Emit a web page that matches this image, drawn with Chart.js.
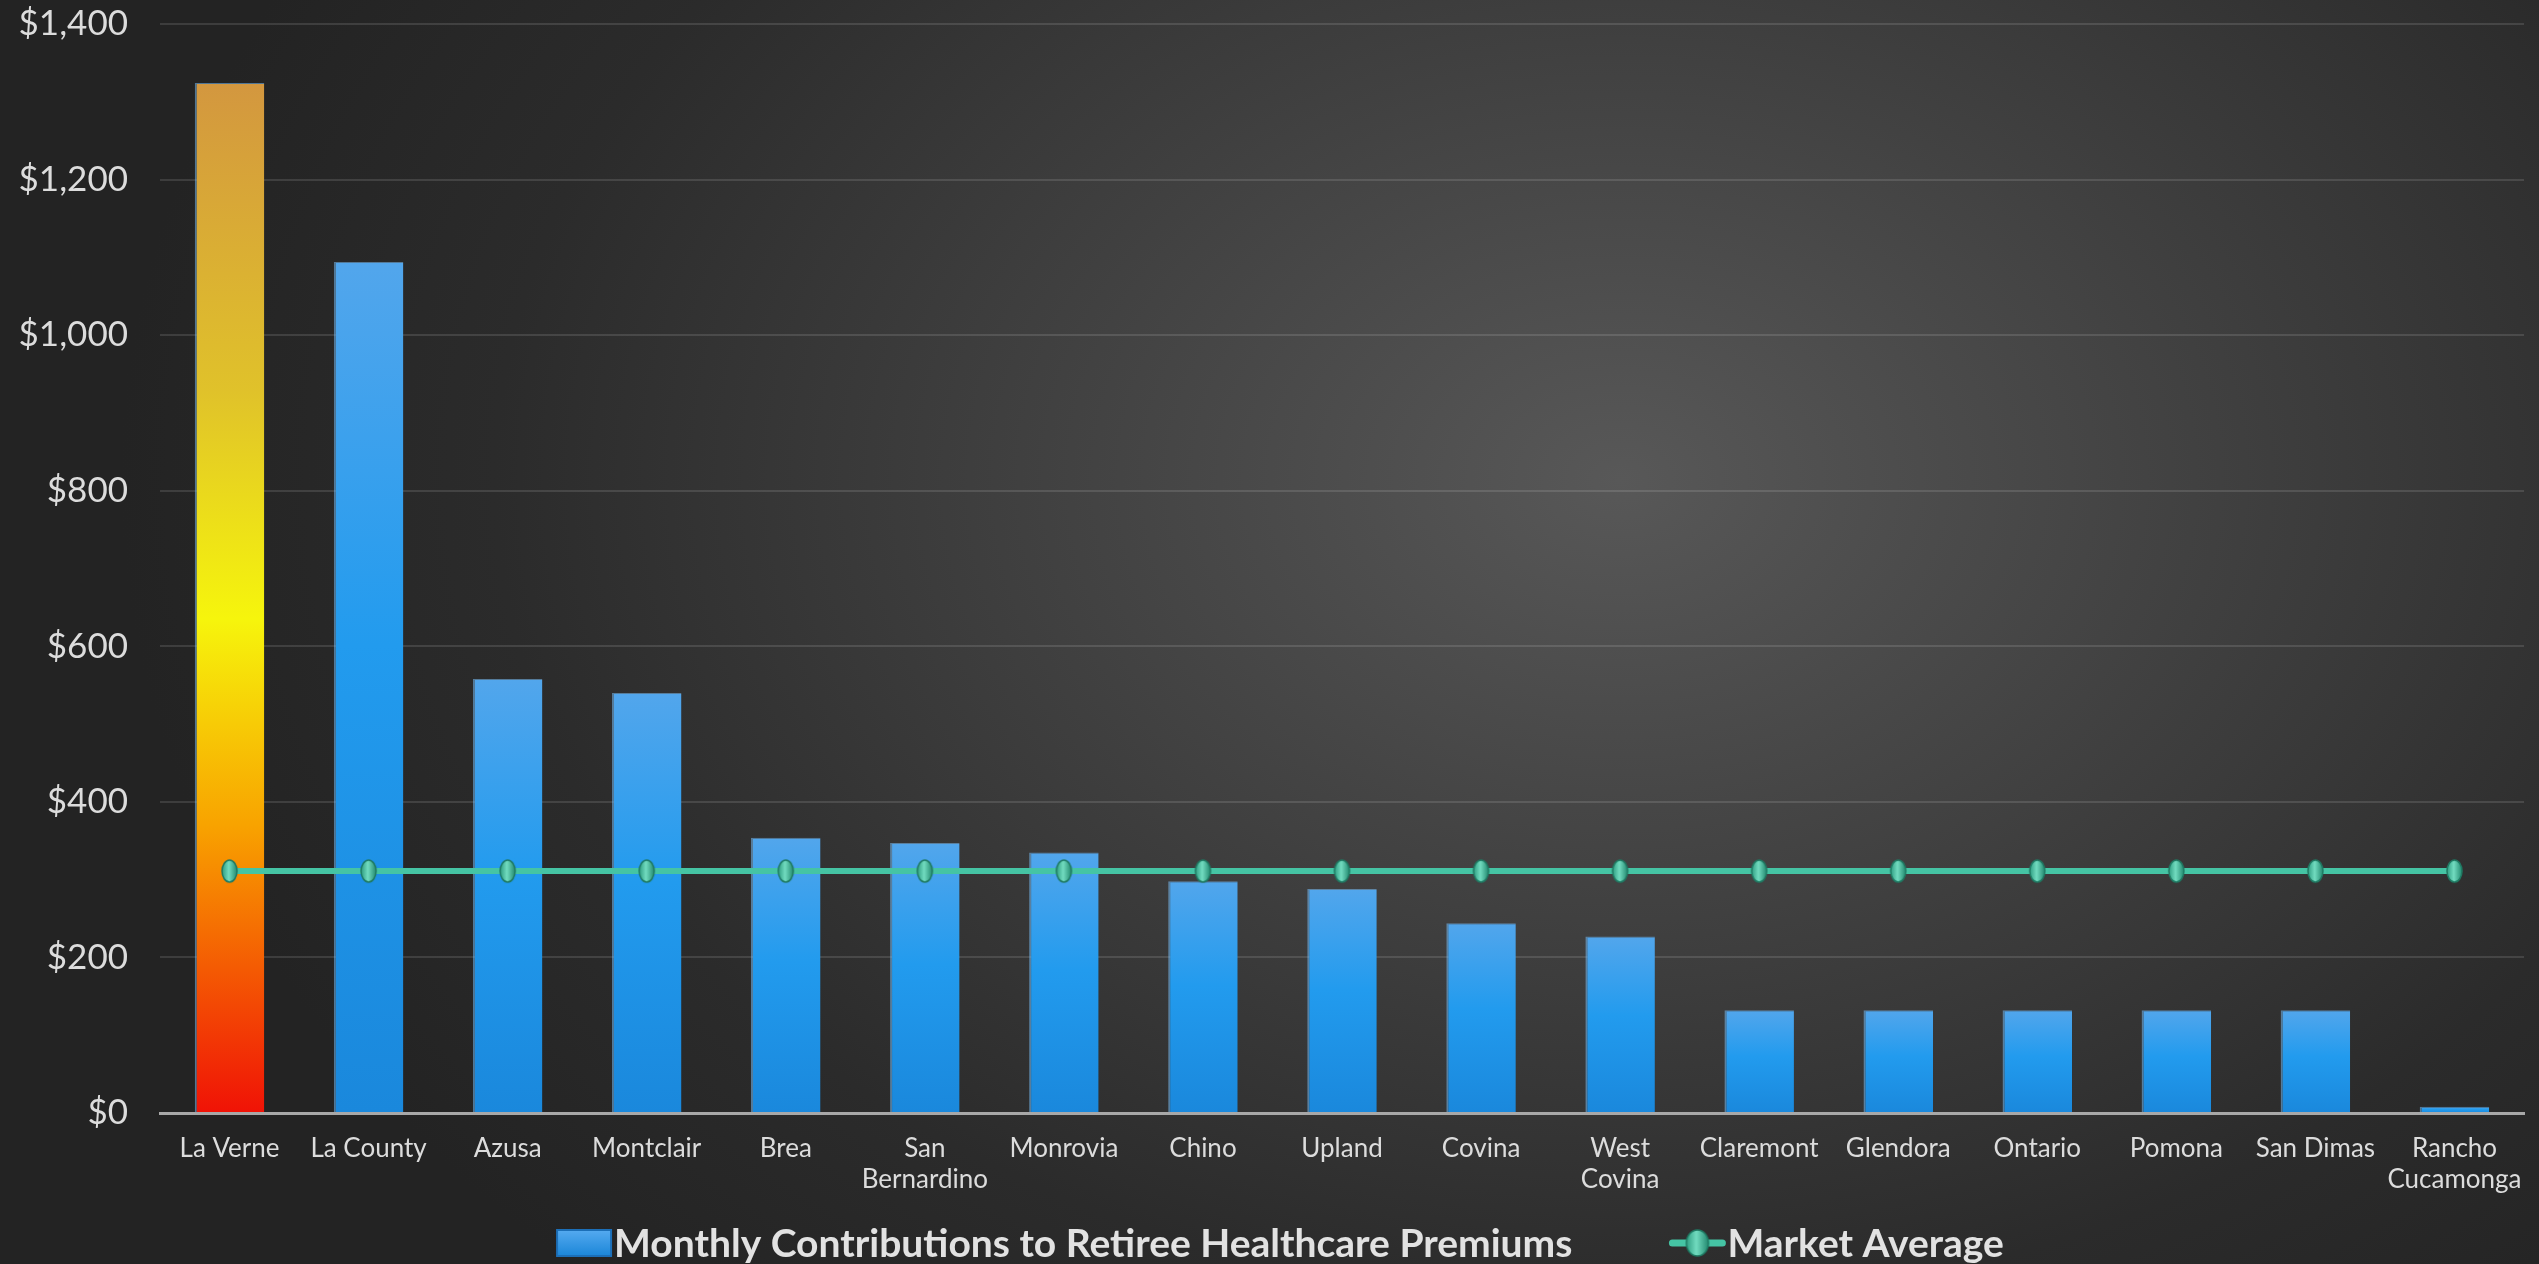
<!DOCTYPE html>
<html>
<head>
<meta charset="utf-8">
<script src="https://cdn.jsdelivr.net/npm/chart.js@4.4.1/dist/chart.umd.min.js"></script>
<style>
    html, body { margin: 0; padding: 0; }
    body {
        width: 2539px;
        height: 1264px;
        overflow: hidden;
        background: radial-gradient(ellipse 1500px 1100px at 1620px 480px, #585858 0%, #404040 40%, #2b2b2b 75%, #232323 100%);
    }
    #wrap { position: relative; width: 2539px; height: 1264px; }
</style>
</head>
<body>
<div id="wrap"><canvas id="retireeChart" width="2539" height="1264"></canvas></div>
<script>
const cities = [
    'La Verne', 'La County', 'Azusa', 'Montclair', 'Brea', ['San', 'Bernardino'],
    'Monrovia', 'Chino', 'Upland', 'Covina', ['West', 'Covina'], 'Claremont',
    'Glendora', 'Ontario', 'Pomona', 'San Dimas', ['Rancho', 'Cucamonga']
];
const monthlyContributions = [1324, 1094, 558, 540, 354, 347, 335, 298, 288, 244, 227, 132, 132, 132, 132, 132, 8];
const marketAverage = [311, 311, 311, 311, 311, 311, 311, 311, 311, 311, 311, 311, 311, 311, 311, 311, 311];
const yTicks = [0, 200, 400, 600, 800, 1000, 1200, 1400];

const barLabel = 'Monthly Contributions to Retiree Healthcare Premiums';
const lineLabel = 'Market Average';

document.addEventListener('DOMContentLoaded', function() {
    const ctx = document.getElementById('retireeChart').getContext('2d');

    function barColor(context) {
        const chart = context.chart;
        if (!chart.chartArea) {
            return '#2196e8';
        }
        const yScale = chart.scales.y;
        const top = yScale.getPixelForValue(context.raw || 0);
        const bottom = yScale.getPixelForValue(0);
        const g = chart.ctx.createLinearGradient(0, top, 0, Math.max(bottom, top + 1));
        if (context.dataIndex === 0) {
            // La Verne is highlighted with a warm gradient
            g.addColorStop(0, '#d3973f');
            g.addColorStop(0.3, '#e0c22a');
            g.addColorStop(0.52, '#f6f50c');
            g.addColorStop(0.72, '#f8a300');
            g.addColorStop(1, '#f01206');
        } else {
            g.addColorStop(0, '#52a6ec');
            g.addColorStop(0.45, '#229bee');
            g.addColorStop(1, '#1a88dc');
        }
        return g;
    }

    // oval marker used for the line points
    function makeMarker(w, h) {
        const c = document.createElement('canvas');
        c.width = w + 4;
        c.height = h + 4;
        const x = c.getContext('2d');
        const cx = c.width / 2, cy = c.height / 2;
        const g = x.createLinearGradient(cx - w / 2, 0, cx + w / 2, 0);
        g.addColorStop(0, '#2f9e82');
        g.addColorStop(0.45, '#72dcc0');
        g.addColorStop(1, '#238a70');
        x.fillStyle = g;
        x.beginPath();
        x.ellipse(cx, cy, w / 2, h / 2, 0, 0, Math.PI * 2);
        x.fill();
        x.strokeStyle = '#1f7a63';
        x.lineWidth = 1.5;
        x.stroke();
        return c;
    }
    const marker = makeMarker(15, 22);

    // legend drawn under the plot, like the original
    const bottomLegend = {
        id: 'bottomLegend',
        afterDraw(chart) {
            const c = chart.ctx;
            const y = 1243;
            c.save();
            c.font = 'bold 39px Lato';
            c.textBaseline = 'middle';
            c.fillStyle = '#e2e2e2';
            const w1 = c.measureText(barLabel).width;
            const w2 = c.measureText(lineLabel).width;
            const total = 54 + 4 + w1 + 96 + 58 + 2 + w2;
            let x = (chart.width - total) / 2 + 12;

            const g = c.createLinearGradient(0, y - 13, 0, y + 13);
            g.addColorStop(0, '#55aaf0');
            g.addColorStop(1, '#1b86d8');
            c.fillStyle = g;
            c.fillRect(x, y - 13, 54, 26);
            c.strokeStyle = '#1c6fb8';
            c.lineWidth = 2;
            c.strokeRect(x, y - 13, 54, 26);
            x += 57;
            c.fillStyle = '#e2e2e2';
            c.fillText(barLabel, x, y + 1);
            x += w1 + 96;

            c.strokeStyle = '#45c4a4';
            c.lineWidth = 7;
            c.lineCap = 'round';
            c.beginPath();
            c.moveTo(x + 4, y);
            c.lineTo(x + 54, y);
            c.stroke();
            const big = makeMarker(22, 26);
            c.drawImage(big, x + 29 - big.width / 2, y - big.height / 2);
            x += 59;
            c.fillStyle = '#e2e2e2';
            c.fillText(lineLabel, x, y + 1);
            c.restore();
        }
    };

    const chart = new Chart(ctx, {
        type: 'bar',
        data: {
            labels: cities,
            datasets: [
                {
                    type: 'line',
                    label: lineLabel,
                    data: marketAverage,
                    borderColor: '#45c4a4',
                    borderWidth: 6,
                    pointStyle: marker,
                    pointRadius: 9,
                    pointHoverRadius: 9,
                    tension: 0,
                    order: 0
                },
                {
                    type: 'bar',
                    label: barLabel,
                    data: monthlyContributions,
                    backgroundColor: barColor,
                    borderColor: 'rgba(120, 190, 245, 0.55)',
                    borderWidth: { left: 2, top: 1, right: 0, bottom: 0 },
                    borderSkipped: 'bottom',
                    barPercentage: 0.5,
                    categoryPercentage: 1.0,
                    order: 1
                }
            ]
        },
        options: {
            responsive: false,
            animation: false,
            devicePixelRatio: 1,
            layout: {
                padding: { top: 24, right: 8, bottom: 71, left: 0 }
            },
            scales: {
                x: {
                    afterFit: function(scale) {
                        scale.height = 80;
                    },
                    grid: { display: false },
                    border: { display: true, color: '#a8a8a8', width: 3 },
                    ticks: {
                        color: '#dcdcdc',
                        font: { family: 'Lato', size: 26 },
                        padding: 12,
                        maxRotation: 0,
                        autoSkip: false
                    }
                },
                y: {
                    min: 0,
                    max: 1400,
                    afterFit: function(scale) {
                        scale.width = 160;
                        // tick padding should only push labels sideways
                        scale.paddingTop = 0;
                        scale.paddingBottom = 0;
                    },
                    afterBuildTicks: function(scale) {
                        scale.ticks = yTicks.map(v => ({ value: v }));
                    },
                    grid: {
                        color: 'rgba(255, 255, 255, 0.12)',
                        lineWidth: 2,
                        drawTicks: false
                    },
                    border: { display: false },
                    ticks: {
                        color: '#dcdcdc',
                        font: { family: 'Lato', size: 35 },
                        padding: 32,
                        callback: function(value) {
                            return '$' + Number(value).toLocaleString('en-US');
                        }
                    }
                }
            },
            plugins: {
                tooltip: { enabled: false },
                legend: { display: false }
            }
        },
        plugins: [bottomLegend]
    });
});
</script>
</body>
</html>
